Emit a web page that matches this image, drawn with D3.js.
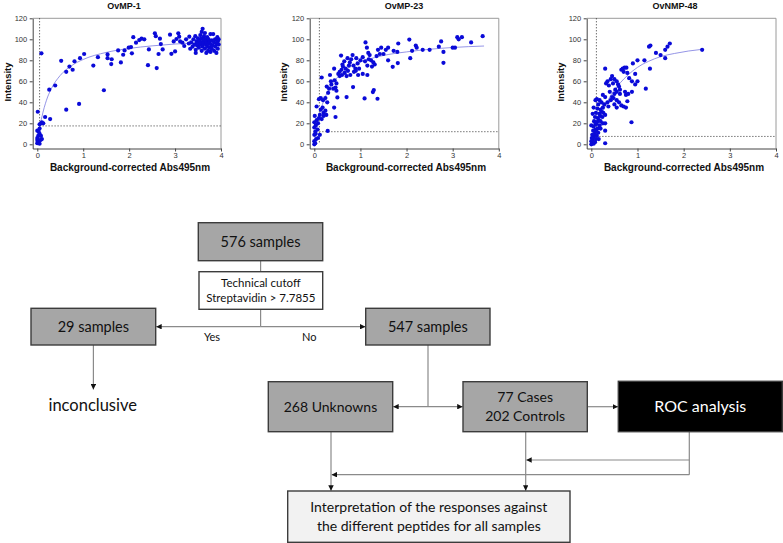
<!DOCTYPE html>
<html>
<head>
<meta charset="utf-8">
<script src="https://cdn.jsdelivr.net/npm/d3@7"></script>
<style>
  html, body { margin: 0; padding: 0; background: #fff; }
  svg { display: block; }
</style>
</head>
<body>
<svg id="chart" width="783" height="543"></svg>
<script>
// ---------------- DATA ----------------
const panelTitles = ["OvMP-1", "OvMP-23", "OvNMP-48"];
const xLabel = "Background-corrected Abs495nm";
const yLabel = "Intensity";
const xTicks = [0, 1, 2, 3, 4];
const yTicks = [0, 20, 40, 60, 80, 100, 120];
const cutoffX = [0.05, 0.11, 0.11];
const cutoffY = [17.5, 12, 7.5];

const ovmp1Points = [
  [0.0,1],[0.01,2.5],[0.0,4],[0.02,1.5],[0.03,3],[0.05,0.5],[0.0,6],[0.02,8],[0.05,10],[0.0,13],
  [0.03,12],[0.07,4],[0.1,5],[0.08,8],[0.05,15],[0.05,19],[0.08,20],[0.1,21],[0.13,20],[0.01,31],
  [0.09,86.6],[0.17,26],[0.28,24],[0.26,52],[0.39,56],[0.52,79.5],[0.63,33],[0.63,69],[0.7,74],[0.77,71],
  [0.81,79],[0.91,38.5],[0.93,82],[1.02,86],[1.22,75],[1.32,83],[1.45,51.5],[1.53,85.6],[1.53,82],[1.62,81],
  [1.61,76.4],[1.76,89.4],[1.82,78],[1.87,85.3],[1.9,89.4],[1.99,92],[2.04,92.6],[2.06,86.6],[2.09,102],[2.15,96.8],
  [2.22,99.3],[2.27,100.6],[2.33,100],[2.41,75.4],[2.43,90.4],[2.56,105.7],[2.58,103],[2.6,72.6],[2.64,86],[2.67,100.6],
  [2.69,95.5],[2.73,90.4],[2.89,104.4],[2.92,86.2],[2.97,98],[3.0,88.5],[3.03,100.3],[3.07,105.7],[3.09,102.5],[3.11,98],
  [3.16,96.8],[3.2,93.6],[3.24,100],[3.31,102.5],
  [3.35,97],[3.38,93],[3.4,100],[3.42,95],[3.44,103],[3.45,90],[3.47,98],[3.48,94],[3.5,101],[3.5,96],
  [3.52,92],[3.53,99],[3.55,104],[3.55,95],[3.57,97],[3.58,101],[3.58,89],[3.6,110],[3.6,93],[3.62,99],
  [3.62,96],[3.63,103],[3.65,91],[3.65,100],[3.67,95],[3.68,98],[3.68,87],[3.7,102],[3.7,93],[3.72,96],
  [3.72,89],[3.73,100],[3.75,97],[3.75,92],[3.77,105],[3.77,88],[3.78,95],[3.8,99],[3.8,91],[3.82,94],
  [3.83,105],[3.85,97],[3.85,89],[3.87,100],[3.88,93],[3.9,96],[3.9,87],[3.92,102],[3.93,98],[3.93,91],
  [3.95,95],[3.95,100],[3.45,87],[3.58,107],[3.65,106],[3.3,96],[3.33,91]
];

const ovmp23Points = [
  [0.0,0],[0.02,1],[0.0,3],[0.04,5],[0.0,9],[0.02,12],[0.07,14],[0.0,16],[0.03,18],[0.08,20],
  [0.0,21],[0.05,23],[0.1,25],[0.16,24],[0.01,27],[0.12,28],[0.2,30],[0.05,36],[0.14,33],[0.18,35],
  [0.24,32],[0.1,43],[0.14,44],[0.19,42],[0.24,44],[0.28,40],[0.2,27],[0.26,28],[0.29,12.7],[0.08,6],
  [0.12,9],[0.03,10],
  [0.16,63.6],[0.27,55],[0.32,53],[0.37,57],[0.41,53],[0.3,49],[0.36,60],[0.44,61],[0.48,58],[0.52,67],
  [0.55,69],[0.59,71],[0.34,66],[0.62,74],[0.43,72],[0.66,68],[0.7,65],[0.46,54],[0.48,51],[0.43,35],
  [0.46,26],[0.5,44.6],[0.58,84.5],[0.61,76],[0.65,79],[0.68,72],[0.72,82],[0.75,75],[0.77,78],[0.8,81],
  [0.83,85],[0.7,45],[0.89,72],[0.91,82],[0.94,77],[0.97,72],[1.0,80],[0.86,69],[0.78,66],[0.84,54.5],
  [1.11,97],[1.14,92],[1.17,87],[1.2,85],[1.23,80],[1.28,78],[1.09,43.7],[1.27,49.7],[1.29,51.6],[1.37,43.4],
  [1.31,76],[1.35,84],[1.38,90],[1.42,86],[1.45,92],[1.5,86],[1.55,90],[1.6,92],[1.6,80],[1.7,73.8],
  [1.72,89],[1.8,88],[1.81,77.4],[1.82,96],[2.06,99.7],[2.08,82],[2.12,89],[2.2,94],[2.22,92],[2.35,90],
  [2.5,90],[2.7,93],[2.75,98],[2.8,88],[2.8,77.6],[3.0,92],[3.05,92],[3.1,102],[3.13,100],[3.2,102],
  [3.4,97],[3.65,103],[1.05,83],[1.1,79],[1.15,75],[1.25,74],[1.18,81],[0.95,66],[1.05,67],[1.15,66],
  [0.55,65],[0.6,66],[0.73,70],[0.85,75],[0.9,70]
];

const ovnmp48Points = [
  [0.0,0],[0.02,1],[0.05,0.5],[0.0,3],[0.03,4],[0.08,2],[0.01,6],[0.05,7],[0.1,5],[0.02,9],
  [0.07,10],[0.12,8],[0.15,11],[0.04,13],[0.09,14],[0.14,15],[0.0,18],[0.05,17],[0.1,19],[0.18,18],
  [0.06,22],[0.12,21],[0.16,23],[0.2,22],[0.08,26],[0.14,25],[0.19,27],[0.24,26],[0.03,29],[0.1,30],
  [0.17,29],[0.22,31],[0.26,30],[0.05,35],[0.13,34],[0.2,33],[0.25,35],[0.09,42],[0.12,43],[0.18,42],
  [0.22,40],[0.28,38],[0.3,1],[0.3,13],[0.3,20],[0.3,28],[0.2,15],[0.25,20],[0.15,38],[0.08,21],
  [0.11,12],[0.16,5],
  [0.3,72],[0.35,60],[0.32,58],[0.38,56],[0.42,62],[0.45,65],[0.5,62],[0.47,58],[0.55,60],[0.58,57],
  [0.6,55],[0.52,52],[0.55,50],[0.62,48],[0.5,48],[0.45,45],[0.35,40],[0.37,36],[0.3,45],[0.25,47],
  [0.42,42],[0.55,42],[0.6,40],[0.65,37],[0.55,35],[0.5,38],[0.48,44],[0.4,50],[0.65,71],[0.68,72],
  [0.72,73],[0.76,73],[0.78,68],[0.7,69],[0.62,52],[0.73,50],[0.75,47],[0.8,48],[0.78,41],[0.7,36],
  [0.75,35],[0.88,50],[0.87,21],[0.88,60],[0.95,67],[1.0,60],[0.9,77],[1.0,80],[1.15,80],[1.18,53],
  [1.27,72],[1.25,93],[1.28,94],[1.4,87],[1.5,85],[1.6,82],[1.6,90],[1.65,93],[1.7,96],[2.4,90],
  [0.82,63],[0.95,57]
];

const ovmp1Fit = [[0.0,1],[0.05,15],[0.1,26],[0.2,42],[0.3,52.5],[0.5,65.6],[0.75,75],[1.0,80.8],[1.5,87.5],[2.0,91.3],[2.5,93.75],[3.0,95.5],[3.5,96.7],[3.95,97.6]];
const ovmp23Fit = [[0.0,0],[0.05,15],[0.1,26],[0.2,41],[0.3,51],[0.45,61],[0.6,68],[0.81,74.5],[1.0,78.5],[1.3,82.5],[1.6,85.5],[2.0,88],[2.5,90.5],[3.0,92.2],[3.68,93.6]];
const ovnmp48Fit = [[0.0,0],[0.1,14],[0.2,26],[0.3,36],[0.4,45],[0.56,55],[0.7,62],[0.9,70],[1.1,76],[1.24,79],[1.5,83.5],[1.8,86.5],[2.1,88.8],[2.41,90.5]];

const panelPoints = [ovmp1Points, ovmp23Points, ovnmp48Points];
const panelFits = [ovmp1Fit, ovmp23Fit, ovnmp48Fit];

// Flowchart texts
const boxLabels = [
  ["576 samples"],
  ["Technical cutoff", "Streptavidin > 7.7855"],
  ["29 samples"],
  ["547 samples"],
  ["268 Unknowns"],
  ["77 Cases", "202 Controls"],
  ["ROC analysis"],
  ["Interpretation of the responses against", "the different peptides for all samples"]
];
const branchLabels = ["Yes", "No"];
const endLabel = "inconclusive";

// ---------------- DRAW ----------------
const svg = d3.select("#chart");
const plotFont = "'Liberation Sans', Arial, Helvetica, sans-serif";
const flowFont = "Lato, 'Open Sans', sans-serif";

const panelLayout = [
  { x0: 32.7, x1: 221.0, titleX: 124, xLabX: 130, yLabX: 7 },
  { x0: 309.7, x1: 498.8, titleX: 404, xLabX: 406, yLabX: 283 },
  { x0: 586.7, x1: 776.0, titleX: 675, xLabX: 684, yLabX: 560 }
];
const yTopPx = 18.3, yBotPx = 148.5;

panelLayout.forEach((L, i) => {
  const x = d3.scaleLinear().domain([-0.1, 4]).range([L.x0, L.x1]);
  const y = d3.scaleLinear().domain([-4, 120]).range([yBotPx, yTopPx]);
  const g = svg.append("g");

  // frame (top & right)
  g.append("path")
    .attr("d", `M${x(-0.1)},${y(120)}H${x(4)}V${y(-4)}`)
    .attr("fill", "none").attr("stroke", "#9a9a9a").attr("stroke-width", 1);

  // axes
  const ax = g.append("g").attr("transform", `translate(0,${y(-4)})`)
    .call(d3.axisBottom(x).tickValues(xTicks).tickFormat(d3.format("d")).tickSize(3).tickPadding(1).tickSizeOuter(0));
  const ay = g.append("g").attr("transform", `translate(${x(-0.1)},0)`)
    .call(d3.axisLeft(y).tickValues(yTicks).tickFormat(d3.format("d")).tickSize(3).tickPadding(2.5).tickSizeOuter(0));
  [ax, ay].forEach(a => {
    a.select(".domain").attr("stroke", "#444").attr("stroke-width", 1);
    a.selectAll(".tick line").attr("stroke", "#444");
    a.selectAll("text").attr("font-family", plotFont).attr("font-size", 7.5).attr("fill", "#333");
  });

  // cutoff dotted lines
  g.append("line")
    .attr("x1", x(cutoffX[i])).attr("x2", x(cutoffX[i]))
    .attr("y1", y(120)).attr("y2", y(0))
    .attr("stroke", "#333").attr("stroke-width", 1).attr("stroke-dasharray", "1,2");
  g.append("line")
    .attr("x1", x(cutoffX[i])).attr("x2", x(4))
    .attr("y1", y(cutoffY[i])).attr("y2", y(cutoffY[i]))
    .attr("stroke", "#333").attr("stroke-width", 1).attr("stroke-dasharray", "1,2");

  // fit curve
  g.append("path")
    .datum(panelFits[i])
    .attr("d", d3.line().x(d => x(d[0])).y(d => y(d[1])).curve(d3.curveMonotoneX))
    .attr("fill", "none").attr("stroke", "#7a7ae0").attr("stroke-width", 0.8);

  // points
  g.selectAll("circle.pt").data(panelPoints[i]).join("circle")
    .attr("class", "pt")
    .attr("cx", d => x(d[0])).attr("cy", d => y(d[1])).attr("r", 2.1)
    .attr("fill", "#0a0ad8");

  // titles / labels
  g.append("text").attr("x", L.titleX).attr("y", 9)
    .attr("text-anchor", "middle").attr("font-family", plotFont)
    .attr("font-weight", "bold").attr("font-size", 9).attr("fill", "#111")
    .text(panelTitles[i]);
  g.append("text").attr("x", L.xLabX).attr("y", 171)
    .attr("text-anchor", "middle").attr("font-family", plotFont)
    .attr("font-weight", "bold").attr("font-size", 10).attr("fill", "#111")
    .text(xLabel);
  g.append("text")
    .attr("transform", `translate(${L.yLabX + 3.5},82) rotate(-90)`)
    .attr("text-anchor", "middle").attr("font-family", plotFont)
    .attr("font-weight", "bold").attr("font-size", 9.5).attr("fill", "#111")
    .text(yLabel);
});

// ---------- Flowchart ----------
const defs = svg.append("defs");
defs.append("marker").attr("id", "arr")
  .attr("viewBox", "0 0 10 10").attr("refX", 10).attr("refY", 5)
  .attr("markerWidth", 5.5).attr("markerHeight", 5.5).attr("markerUnits", "userSpaceOnUse")
  .attr("orient", "auto")
  .append("path").attr("d", "M0,0L10,5L0,10Z").attr("fill", "#111");

const boxes = [
  { x: 198.3, y: 222.7, w: 124.4, h: 38, fill: "#a6a6a6", color: "#111", size: 14.5, lh: 0 },
  { x: 199.0, y: 271.7, w: 123.7, h: 37.6, fill: "#ffffff", color: "#111", size: 11.5, lh: 15 },
  { x: 31.0, y: 308.3, w: 124.7, h: 36.7, fill: "#a6a6a6", color: "#111", size: 14.5, lh: 0 },
  { x: 365.7, y: 308.3, w: 124.3, h: 36.7, fill: "#a6a6a6", color: "#111", size: 14.5, lh: 0 },
  { x: 268.3, y: 381.7, w: 124.4, h: 50, fill: "#a6a6a6", color: "#111", size: 14, lh: 0 },
  { x: 463.0, y: 381.7, w: 124.3, h: 50, fill: "#a6a6a6", color: "#111", size: 14, lh: 19 },
  { x: 618.3, y: 381.3, w: 164.0, h: 50.4, fill: "#000000", color: "#ffffff", size: 16, lh: 0 },
  { x: 287.7, y: 491.0, w: 282.3, h: 51.3, fill: "#f2f2f2", color: "#111", size: 14, lh: 18.5 }
];

const lineColor = "#8a8a8a";
function seg(pts, arrow) {
  svg.append("path")
    .attr("d", d3.line()(pts))
    .attr("fill", "none").attr("stroke", lineColor).attr("stroke-width", 1.2)
    .attr("marker-end", arrow ? "url(#arr)" : null);
}
seg([[260.6, 260.7], [260.6, 271.7]], false);
seg([[260.6, 309.3], [260.6, 326.7]], false);
seg([[260.6, 326.7], [156.2, 326.7]], true);
seg([[260.6, 326.7], [365.4, 326.7]], true);
seg([[93.4, 345], [93.4, 389.5]], true);
seg([[428, 345], [428, 406.7]], false);
seg([[428, 406.7], [393.2, 406.7]], true);
seg([[428, 406.7], [462.7, 406.7]], true);
seg([[587.3, 406.7], [618, 406.7]], true);
seg([[689.3, 431.7], [689.3, 474.7]], false);
seg([[689.3, 460], [526.2, 460]], true);
seg([[689.3, 474.7], [331.5, 474.7]], true);
seg([[331, 431.7], [331, 490.7]], true);
seg([[525.7, 431.7], [525.7, 490.7]], true);

boxes.forEach((b, i) => {
  svg.append("rect").attr("x", b.x).attr("y", b.y).attr("width", b.w).attr("height", b.h)
    .attr("fill", b.fill).attr("stroke", "#3c3c3c").attr("stroke-width", 1.4);
  const lines = boxLabels[i];
  const cx = b.x + b.w / 2, cy = b.y + b.h / 2;
  const lh = b.lh || 0;
  lines.forEach((t, j) => {
    svg.append("text")
      .attr("x", cx).attr("y", cy + (j - (lines.length - 1) / 2) * lh)
      .attr("dy", "0.35em").attr("text-anchor", "middle")
      .attr("font-family", flowFont).attr("font-size", b.size).attr("fill", b.color)
      .text(t);
  });
});

svg.append("text").attr("x", 212).attr("y", 337).attr("dy", "0.35em").attr("text-anchor", "middle")
  .attr("font-family", flowFont).attr("font-size", 11).attr("fill", "#111").text(branchLabels[0]);
svg.append("text").attr("x", 309.3).attr("y", 337).attr("dy", "0.35em").attr("text-anchor", "middle")
  .attr("font-family", flowFont).attr("font-size", 11).attr("fill", "#111").text(branchLabels[1]);
svg.append("text").attr("x", 92.7).attr("y", 405.5).attr("dy", "0.35em").attr("text-anchor", "middle")
  .attr("font-family", flowFont).attr("font-size", 16.5).attr("fill", "#111").text(endLabel);
</script>
</body>
</html>
